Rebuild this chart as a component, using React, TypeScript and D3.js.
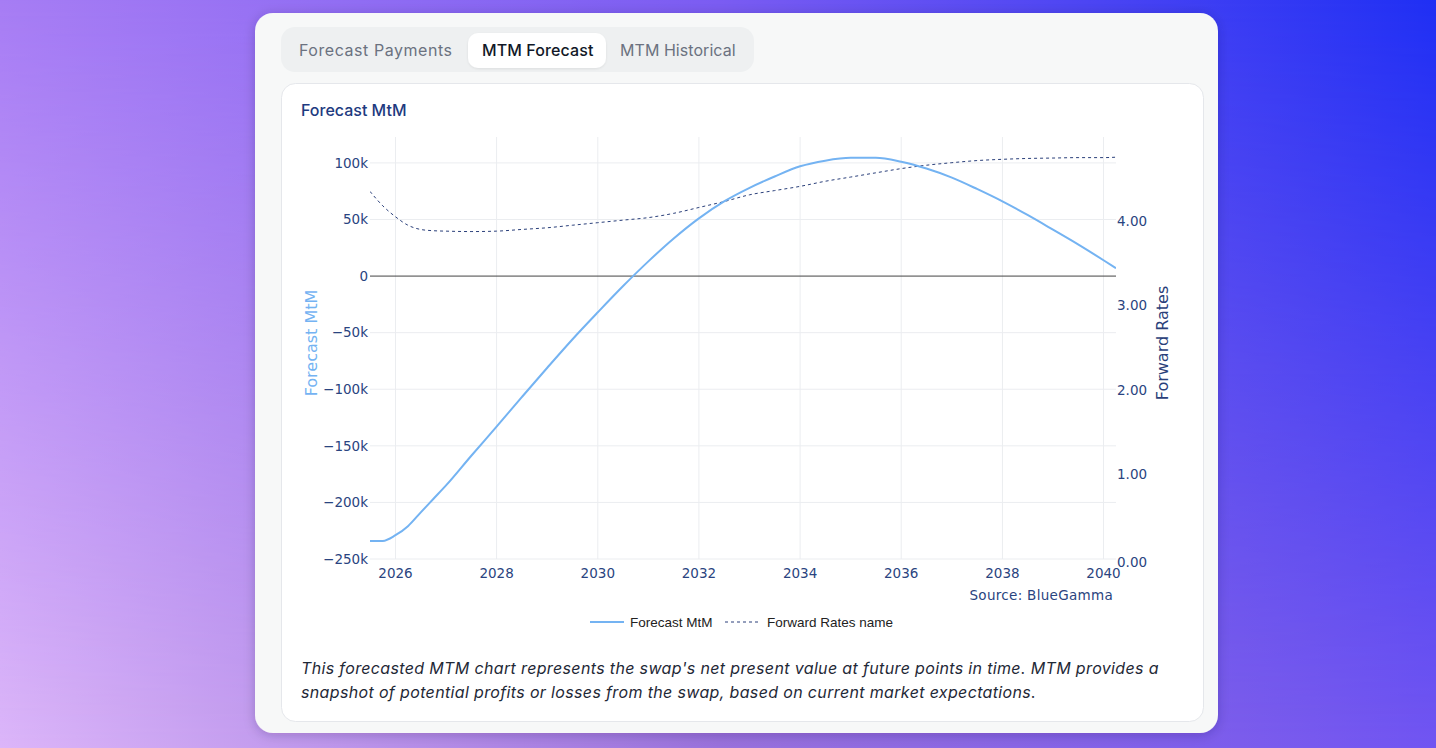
import React from "react";
import * as d3 from "d3";

// forecast dates (quarterly at the start, half-yearly after)
const dates = [
  "2025-07-01", "2025-10-01", "2026-01-01", "2026-04-01", "2026-07-01", "2026-10-01",
  "2027-01-01", "2027-07-01", "2028-01-01", "2028-07-01", "2029-01-01", "2029-07-01",
  "2030-01-01", "2030-07-01", "2031-01-01", "2031-07-01", "2032-01-01", "2032-07-01",
  "2033-01-01", "2033-07-01", "2034-01-01", "2034-07-01", "2035-01-01", "2035-07-01",
  "2036-01-01", "2036-07-01", "2037-01-01", "2037-07-01", "2038-01-01", "2038-07-01",
  "2039-01-01", "2039-07-01", "2040-01-01", "2040-03-31",
];

// forecast mark-to-market, in currency units
const mtmValues = [
  -234000, -234000, -229000, -221000, -209000, -197000,
  -185000, -159000, -133000, -107000, -81000, -56000,
  -32000, -9000, 13000, 33000, 51000, 66000,
  78000, 88000, 97000, 102000, 104500, 104500,
  101000, 95000, 87000, 77000, 66000, 54000,
  41000, 28000, 14000, 7000,
];

// forward rates, in percent
const forwardRates = [
  4.35, 4.18, 4.05, 3.95, 3.9, 3.885,
  3.88, 3.875, 3.88, 3.9, 3.92, 3.95,
  3.98, 4.01, 4.04, 4.09, 4.16, 4.23,
  4.31, 4.36, 4.41, 4.47, 4.52, 4.57,
  4.62, 4.66, 4.69, 4.715, 4.73, 4.74,
  4.745, 4.75, 4.75, 4.755,
];

const mtmTicks = [100000, 50000, 0, -50000, -100000, -150000, -200000, -250000];
const rateTicks = [0, 1, 2, 3, 4];
const yearTicks = [2026, 2028, 2030, 2032, 2034, 2036, 2038, 2040];
const tabs = ["Forecast Payments", "MTM Forecast", "MTM Historical"];
const description = [
  "This forecasted MTM chart represents the swap's net present value at future points in time. MTM provides a",
  "snapshot of potential profits or losses from the swap, based on current market expectations.",
];

const W = 1436;
const H = 748;
const plot = { left: 370, right: 1116, top: 137, bottom: 559 };

const mtmColor = "#74b3f2";
const rateColor = "#2a3f7a";
const tickColor = "#2a4480";
const gridColor = "#ebedf0";
const axisFont = "'DejaVu Sans', Verdana, sans-serif";
const uiFont = "Inter, 'Open Sans', sans-serif";

export default function App() {
  const parse = d3.utcParse("%Y-%m-%d");
  const series = dates.map((d, i) => ({
    date: parse(d) as Date,
    mtm: mtmValues[i],
    rate: forwardRates[i],
  }));

  const x = d3
    .scaleUtc()
    .domain([parse("2025-07-01") as Date, parse("2040-03-31") as Date])
    .range([plot.left, plot.right]);
  const y = d3.scaleLinear().domain([-250000, 122900]).range([plot.bottom, plot.top]);
  const yRate = d3.scaleLinear().domain([0, 4.994]).range([plot.bottom, plot.top]);

  const fmt = d3.format("~s");

  const mtmLine = d3
    .line<(typeof series)[number]>()
    .x((d) => x(d.date))
    .y((d) => y(d.mtm))
    .curve(d3.curveMonotoneX);
  const rateLine = d3
    .line<(typeof series)[number]>()
    .x((d) => x(d.date))
    .y((d) => yRate(d.rate))
    .curve(d3.curveMonotoneX);

  const midY = (plot.top + plot.bottom) / 2 - 5;

  return (
    <svg
      width={W}
      height={H}
      style={{ position: "absolute", left: 0, top: 0, display: "block" }}
    >
      <defs>
        <linearGradient id="bgTop" x1="0" y1="0" x2="1" y2="0">
          <stop offset="0" stopColor="#a67cf4" />
          <stop offset="0.5" stopColor="#7a5cf2" />
          <stop offset="1" stopColor="#1f2ff4" />
        </linearGradient>
        <linearGradient id="bgBottom" x1="0" y1="0" x2="1" y2="0">
          <stop offset="0" stopColor="#dcb6f9" />
          <stop offset="0.5" stopColor="#9a72dc" />
          <stop offset="1" stopColor="#7155f2" />
        </linearGradient>
        <linearGradient id="fadeDown" x1="0" y1="0" x2="0" y2="1">
          <stop offset="0" stopColor="#fff" stopOpacity="1" />
          <stop offset="1" stopColor="#fff" stopOpacity="0" />
        </linearGradient>
        <mask id="topMask">
          <rect x={0} y={0} width={W} height={H} fill="url(#fadeDown)" />
        </mask>
        <filter id="cardShadow" x="-10%" y="-10%" width="120%" height="120%">
          <feDropShadow dx="0" dy="2" stdDeviation="6" floodColor="#1a1040" floodOpacity="0.22" />
        </filter>
        <filter id="tabShadow" x="-10%" y="-20%" width="120%" height="140%">
          <feDropShadow dx="0" dy="1" stdDeviation="1" floodColor="#000" floodOpacity="0.08" />
        </filter>
        <clipPath id="plotClip">
          <rect x={plot.left} y={plot.top - 2} width={plot.right - plot.left} height={plot.bottom - plot.top + 4} />
        </clipPath>
      </defs>

      {/* page background */}
      <rect x={0} y={0} width={W} height={H} fill="url(#bgBottom)" />
      <rect x={0} y={0} width={W} height={H} fill="url(#bgTop)" mask="url(#topMask)" />

      {/* card */}
      <rect x={255} y={13} width={963} height={720} rx={18} fill="#f7f8f8" filter="url(#cardShadow)" />

      {/* tab bar */}
      <rect x={281} y={27} width={473} height={45} rx={14} fill="#eef0f1" />
      <rect x={468} y={33} width={138} height={35} rx={10} fill="#ffffff" filter="url(#tabShadow)" />
      {tabs.map((t, i) => (
        <text
          key={t}
          x={[299, 482, 620][i]}
          y={55.5}
          fontFamily={uiFont}
          fontSize={16}
          letterSpacing={[0.55, 0.1, 0.05][i]}
          fontWeight={i === 1 ? 500 : 400}
          fill={i === 1 ? "#111827" : "#6b7280"}
        >
          {t}
        </text>
      ))}

      {/* chart panel */}
      <rect x={281.5} y={83.5} width={922} height={638} rx={14} fill="#ffffff" stroke="#e5e7eb" />
      <text x={301} y={115.5} fontFamily={uiFont} fontSize={16} fontWeight={500} fill="#1e3a80">
        Forecast MtM
      </text>

      {/* grid */}
      <g>
        {yearTicks.map((yr) => {
          const px = x(Date.UTC(yr, 0, 1));
          return <line key={yr} x1={px} x2={px} y1={plot.top} y2={plot.bottom} stroke={gridColor} />;
        })}
        {mtmTicks
          .filter((v) => v !== 0)
          .map((v) => (
            <line key={v} x1={plot.left} x2={plot.right} y1={y(v)} y2={y(v)} stroke={gridColor} />
          ))}
        <line x1={plot.left} x2={plot.right} y1={y(0)} y2={y(0)} stroke="#444" strokeWidth={1} />
      </g>

      {/* series */}
      <g clipPath="url(#plotClip)">
        <path d={rateLine(series) ?? ""} fill="none" stroke={rateColor} strokeWidth={1} strokeDasharray="3,3" />
        <path d={mtmLine(series) ?? ""} fill="none" stroke={mtmColor} strokeWidth={2} />
      </g>

      {/* left axis */}
      <g fontFamily={axisFont} fontSize={13.5} fill={tickColor}>
        {mtmTicks.map((v) => (
          <text key={v} x={368} y={y(v)} dy="0.35em" textAnchor="end">
            {fmt(v)}
          </text>
        ))}
      </g>
      {/* right axis */}
      <g fontFamily={axisFont} fontSize={13.5} fill={tickColor}>
        {rateTicks.map((v) => (
          <text key={v} x={1117} y={yRate(v) + (v === 0 ? 3 : 0)} dy="0.35em" textAnchor="start">
            {v.toFixed(2)}
          </text>
        ))}
      </g>
      {/* bottom axis */}
      <g fontFamily={axisFont} fontSize={13.5} fill={tickColor}>
        {yearTicks.map((yr) => (
          <text key={yr} x={x(Date.UTC(yr, 0, 1))} y={578} textAnchor="middle">
            {yr}
          </text>
        ))}
      </g>

      {/* axis titles */}
      <text
        transform={`translate(311,${midY}) rotate(-90)`}
        textAnchor="middle"
        dominantBaseline="central"
        fontFamily={axisFont}
        fontSize={16}
        fill={mtmColor}
      >
        Forecast MtM
      </text>
      <text
        transform={`translate(1162,${midY}) rotate(-90)`}
        textAnchor="middle"
        dominantBaseline="central"
        fontFamily={axisFont}
        fontSize={16}
        fill={rateColor}
      >
        Forward Rates
      </text>

      <text
        x={1113}
        y={600}
        textAnchor="end"
        fontFamily={axisFont}
        fontSize={13.5}
        letterSpacing={0.3}
        fill={tickColor}
      >
        Source: BlueGamma
      </text>

      {/* legend */}
      <g fontFamily="'Liberation Sans', Arial, sans-serif" fontSize={13.5} fill="#222">
        <line x1={590} x2={624} y1={622} y2={622} stroke={mtmColor} strokeWidth={2} />
        <text x={630} y={622} dy="0.35em">Forecast MtM</text>
        <line x1={725} x2={760} y1={622} y2={622} stroke={rateColor} strokeWidth={1} strokeDasharray="3,3" />
        <text x={767} y={622} dy="0.35em">Forward Rates name</text>
      </g>

      {/* description */}
      <g fontFamily={uiFont} fontSize={16} fontStyle="italic" letterSpacing={0.35} fill="#1f2937">
        {description.map((line, i) => (
          <text key={i} x={301} y={674 + i * 23.5}>
            {line}
          </text>
        ))}
      </g>
    </svg>
  );
}
